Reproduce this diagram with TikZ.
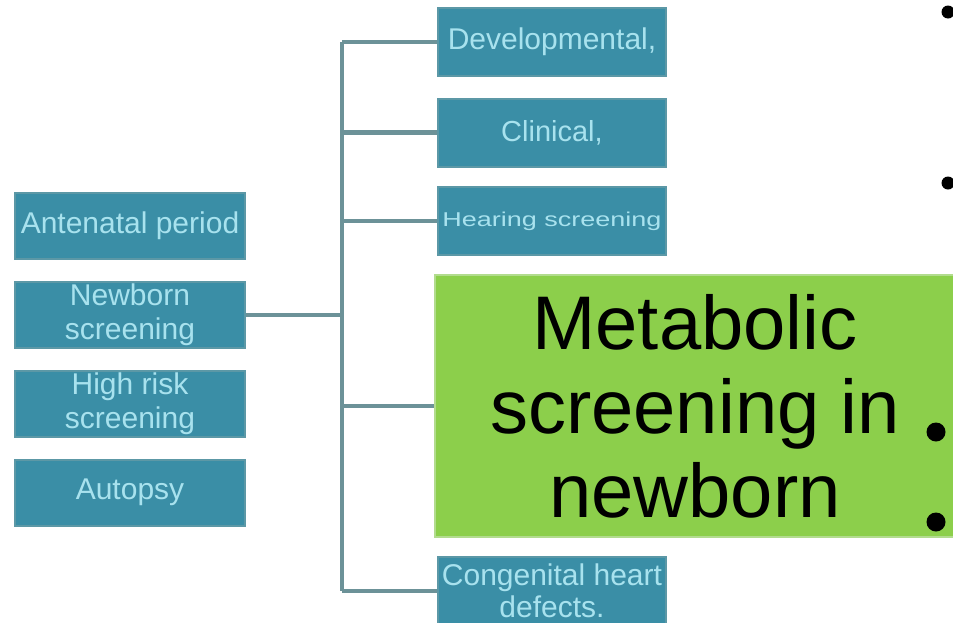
\documentclass[tikz,border=0pt]{standalone}
\usepackage{fontspec}
\setmainfont{Liberation Sans}
\definecolor{boxfill}{HTML}{3A8EA6}
\definecolor{boxline}{HTML}{5C98A6}
\definecolor{boxtext}{HTML}{A8E2EE}
\definecolor{conn}{HTML}{6C9298}
\definecolor{greenfill}{HTML}{8CCF4B}
\definecolor{greenline}{HTML}{B2DC8E}
\begin{document}
\begin{tikzpicture}[x=1pt,y=-1pt,
  tealbox/.style={draw=boxline,line width=2pt,fill=boxfill,text=boxtext,inner sep=0pt,align=center,
    font=\fontsize{30}{34}\selectfont},
  leftbox/.style={tealbox,minimum width=230pt,minimum height=66pt},
  rightbox/.style={tealbox,minimum width=228pt,minimum height=68pt},
  connline/.style={draw=conn,line width=4.5pt},
  bulletdot/.style={fill=black,draw=none}]
\useasboundingbox (0,0) rectangle (953,622);
\fill[white] (0,0) rectangle (953,622);
% left column
\node[leftbox] (ante) at (130,226) {Antenatal period};
\node[leftbox] (newb) at (130,315) {Newborn\\screening};
\node[leftbox] (high) at (130,404) {High risk\\screening};
\node[leftbox] (auto) at (130,492.5) {Autopsy};
% right column
\node[rightbox] (devel) at (552,42) {Developmental,};
\node[rightbox,font=\fontsize{29}{33}\selectfont] (clin) at (552,132.5) {Clinical,};
\node[rightbox] (hear) at (552,221) {\scalebox{1.35}[1]{\fontsize{20}{24}\selectfont Hearing screening}};
\node[draw=greenline,line width=2pt,fill=greenfill,minimum width=520pt,minimum height=262pt,inner sep=0pt,
  align=center,text=black,font=\fontsize{76}{84}\selectfont] (meta) at (695,406) {Metabolic\\screening in\\newborn};
\node[rightbox,font=\fontsize{30}{32}\selectfont] (cong) at (552,591) {Congenital heart\\defects.};
% connectors
\coordinate (ttop) at (342,42);
\coordinate (tbot) at (342,591);
\draw[connline] (ttop) -- (tbot);
\draw[connline] (newb.east) -- (newb.east -| ttop);
\draw[connline] (ttop) -- (devel.west);
\draw[connline] (clin.west -| ttop) -- (clin.west);
\draw[connline] (hear.west -| ttop) -- (hear.west);
\draw[connline] (meta.west -| ttop) -- (meta.west);
\draw[connline] (tbot) -- (cong.west);
% bullets
\fill[bulletdot] (948,12) circle (6.5);
\fill[bulletdot] (948,183) circle (6.5);
\fill[bulletdot] (936,432) circle (9.5);
\fill[bulletdot] (936,522) circle (9.5);
\end{tikzpicture}
\end{document}
